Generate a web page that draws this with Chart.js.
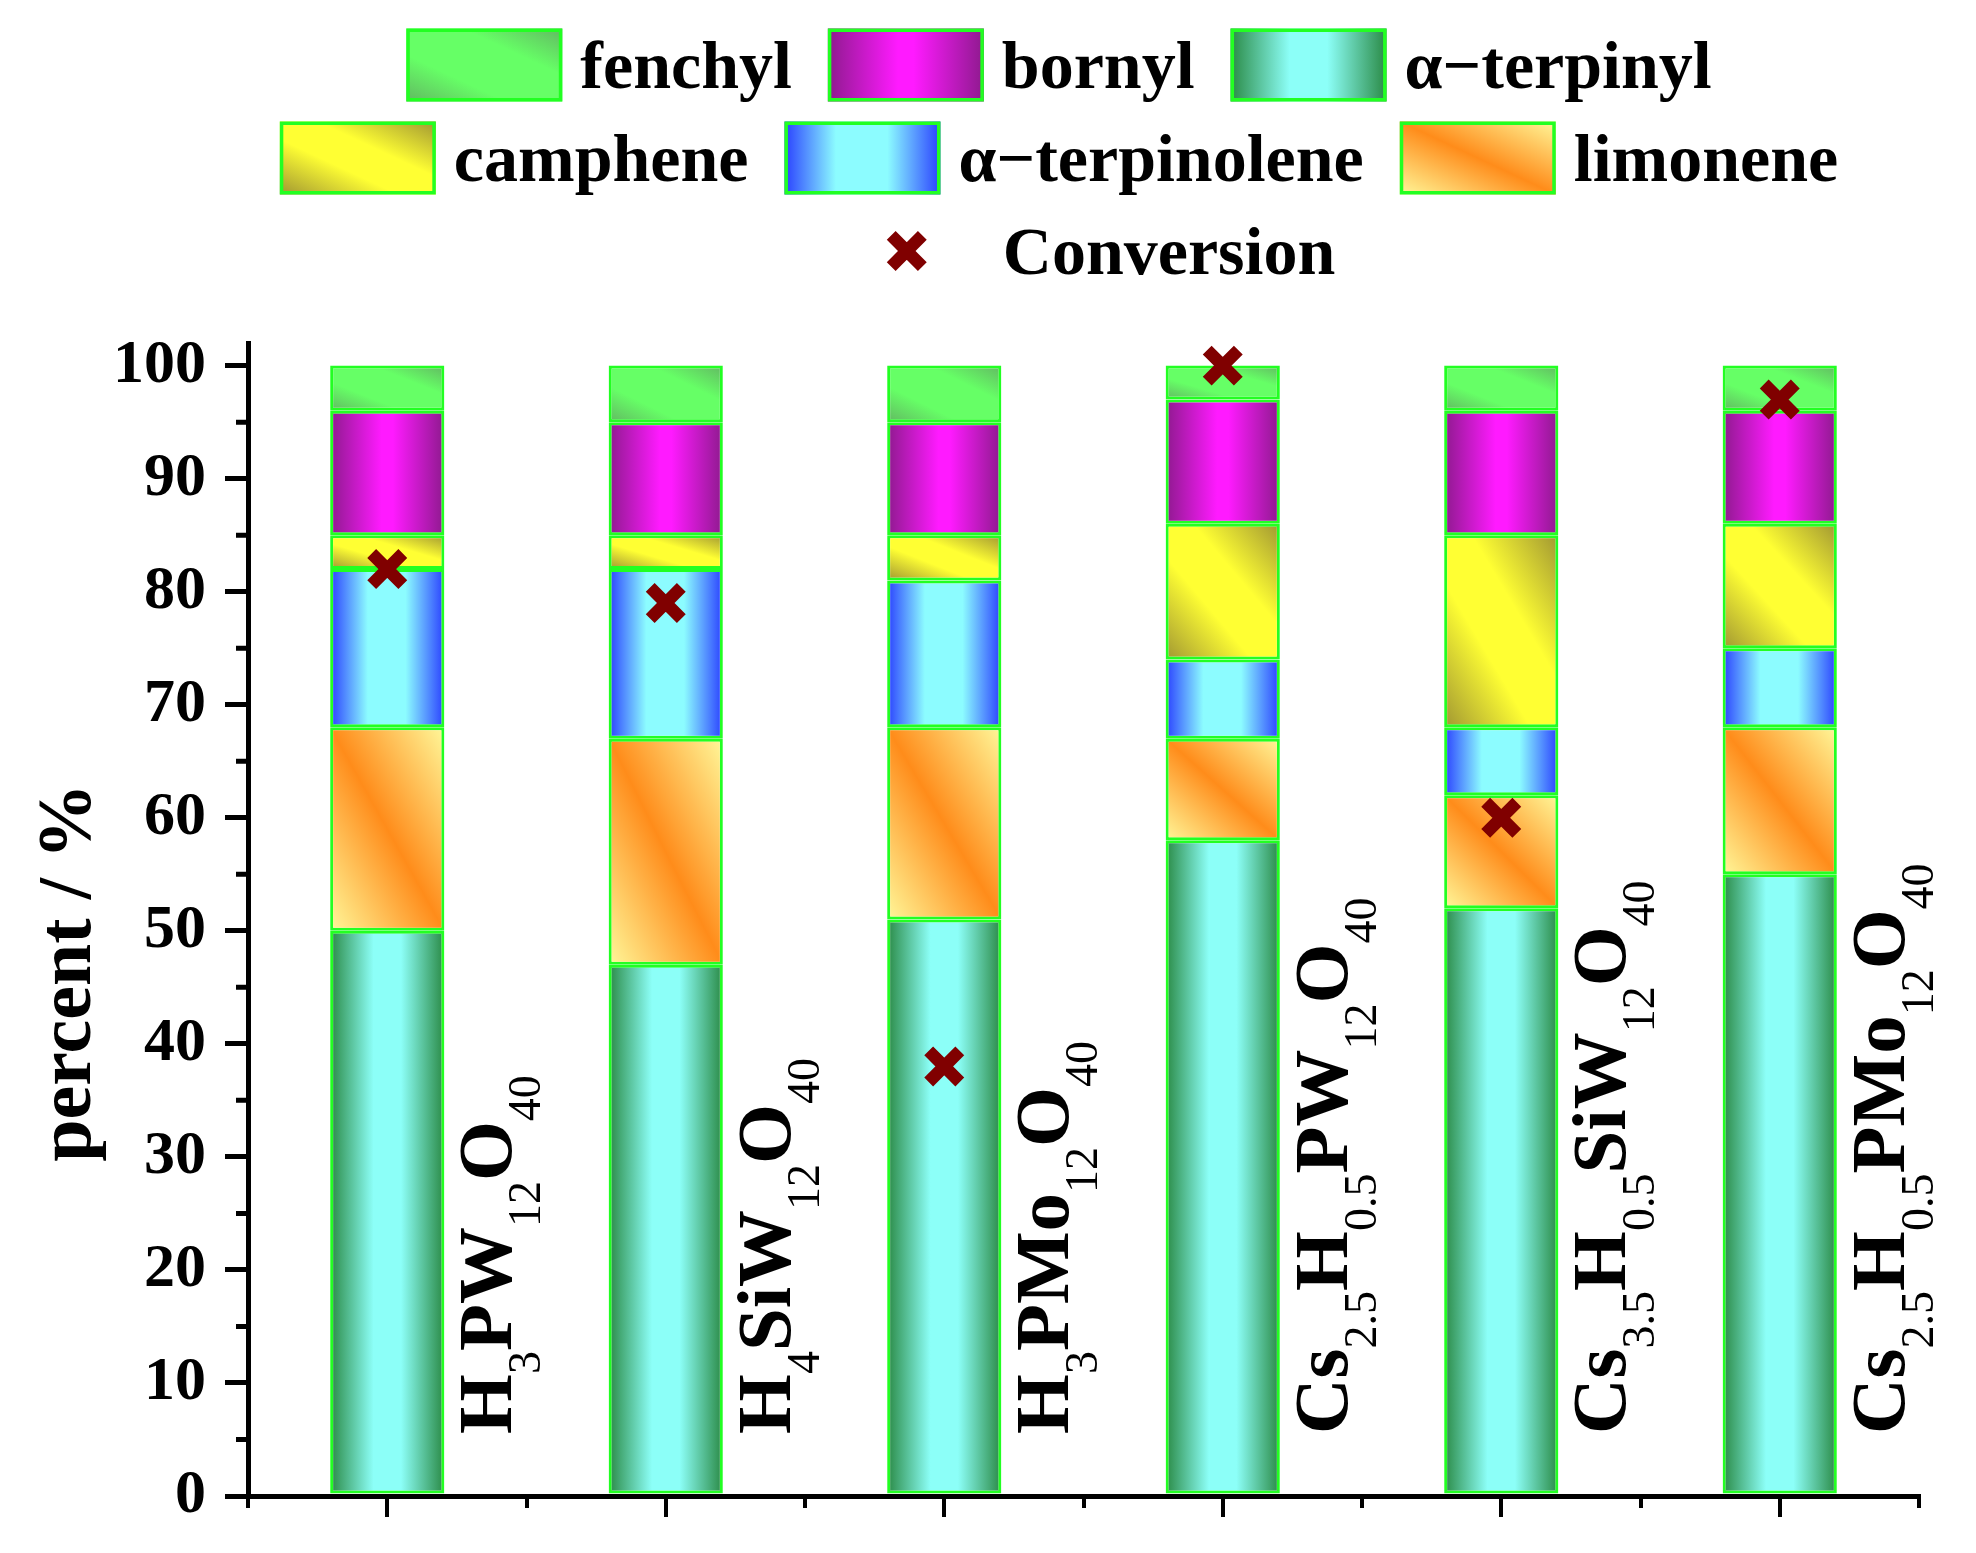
<!DOCTYPE html>
<html>
<head>
<meta charset="utf-8">
<title>percent / %</title>
<script src="https://cdn.jsdelivr.net/npm/chart.js@4.4.1/dist/chart.umd.min.js"></script>
<style>
  html, body { margin: 0; padding: 0; background: #fff; }
  #caixa { width: 1976px; height: 1553px; position: relative; }
</style>
</head>
<body>
<div id="caixa"><canvas id="grafico"></canvas></div>
<script>
// categorias (subscritos marcados com _)
const categories = ['H_3PW_12O_40', 'H_4SiW_12O_40', 'H_3PMo_12O_40',
                    'Cs_2.5H_0.5PW_12O_40', 'Cs_3.5H_0.5SiW_12O_40', 'Cs_2.5H_0.5PMo_12O_40'];

// composição (%) de baixo para cima
const terpinyl    = [50, 47, 51, 58, 52, 55];
const limonene    = [18, 20, 17,  9, 10, 13];
const terpinolene = [14, 15, 13,  7,  6,  7];
const camphene    = [ 3,  3,  4, 12, 17, 11];
const bornyl      = [11, 10, 10, 11, 11, 10];
const fenchyl     = [ 4,  5,  5,  3,  4,  4];

// conversão (%)
const conversion  = [82, 79, 38, 100, 60, 97];

const FONTE = '"Liberation Serif", "Times New Roman", serif';
const VERDE_BORDA = '#22ff22';
const VINHO = '#800000';

// estilos de preenchimento (h = horizontal, d = diagonal)
const estilos = {
  fenchyl:     { tipo: 'd', stops: [[0, '#62b862'], [0.32, '#66ff66'], [0.68, '#66ff66'], [1, '#62b862']] },
  bornyl:      { tipo: 'h', stops: [[0, '#8e1a8e'], [0.45, '#ff1aff'], [0.55, '#ff1aff'], [1, '#8e1a8e']] },
  terpinyl:    { tipo: 'h', stops: [[0, '#2a8a45'], [0.38, '#8cfff8'], [0.62, '#8cfff8'], [1, '#2a8a45']] },
  camphene:    { tipo: 'd', stops: [[0, '#a09632'], [0.38, '#ffff33'], [0.62, '#ffff33'], [1, '#a09632']] },
  terpinolene: { tipo: 'h', stops: [[0, '#2a40ff'], [0.33, '#8cfcff'], [0.66, '#8cfcff'], [1, '#2a40ff']] },
  limonene:    { tipo: 'd', stops: [[0, '#fff89a'], [0.5, '#ff8c1a'], [1, '#fff89a']] }
};

function gradiente(ctx, est, l, t, r, b) {
  let g;
  if (est.tipo === 'h') {
    g = ctx.createLinearGradient(l, 0, r, 0);
  } else {
    // faixa central ao longo da diagonal sup.esq -> inf.dir
    const w = r - l, h = b - t, d = Math.hypot(w, h) || 1;
    const cx = (l + r) / 2, cy = (t + b) / 2, e = w * h / d;
    const nx = h / d, ny = -w / d;
    g = ctx.createLinearGradient(cx - nx * e, cy - ny * e, cx + nx * e, cy + ny * e);
  }
  est.stops.forEach(s => g.addColorStop(s[0], s[1]));
  return g;
}

function serieBarra(label, dados, estilo) {
  return {
    type: 'bar',
    label: label,
    data: dados,
    estilo: estilo,
    yAxisID: 'y',
    backgroundColor: () => estilos[estilo].stops[1][1],
    borderColor: VERDE_BORDA,
    borderWidth: 3,
    borderSkipped: false,
    categoryPercentage: 1,
    barPercentage: 0.41
  };
}

// gradiente por segmento de barra
const pintarBarras = {
  id: 'pintarBarras',
  beforeDatasetsDraw(chart) {
    const ctx = chart.ctx;
    chart.data.datasets.forEach((ds, i) => {
      if (!ds.estilo) return;
      chart.getDatasetMeta(i).data.forEach(bar => {
        const p = bar.getProps(['x', 'y', 'base', 'width'], true);
        bar.options.backgroundColor = gradiente(ctx, estilos[ds.estilo],
          p.x - p.width / 2, Math.min(p.y, p.base), p.x + p.width / 2, Math.max(p.y, p.base));
      });
    });
  }
};

// fórmula com subscritos (subscritos sem negrito)
function desenharFormula(ctx, texto, tamanho, tamanhoSub, desloc) {
  const partes = texto.split(/_([\d.]+)/);
  let u = 0;
  ctx.textAlign = 'left';
  ctx.textBaseline = 'alphabetic';
  partes.forEach((parte, k) => {
    if (!parte) return;
    if (k % 2 === 0) {
      ctx.font = `bold ${tamanho}px ${FONTE}`;
      ctx.fillText(parte, u, 0);
    } else {
      ctx.font = `${tamanhoSub}px ${FONTE}`;
      ctx.fillText(parte, u, desloc);
    }
    u += ctx.measureText(parte).width;
  });
}

// rótulos verticais, título do eixo y e marcas menores
const extras = {
  id: 'extras',
  afterDatasetsDraw(chart) {
    const ctx = chart.ctx, area = chart.chartArea, xs = chart.scales.x;
    ctx.save();
    ctx.fillStyle = '#000';
    categories.forEach((rotulo, i) => {
      const cx = xs.getPixelForValue(i);
      ctx.save();
      ctx.translate(cx + 124, area.bottom - 62);
      ctx.rotate(-Math.PI / 2);
      desenharFormula(ctx, rotulo, 77, 46, 29);
      ctx.restore();
    });
    ctx.restore();
  },
  afterDraw(chart) {
    const ctx = chart.ctx, area = chart.chartArea;
    const xs = chart.scales.x, ys = chart.scales.y;
    ctx.save();
    ctx.strokeStyle = '#000';
    ctx.lineWidth = 4;
    ctx.beginPath();
    for (let i = 0; i <= categories.length; i++) {
      const px = Math.round(xs.getPixelForValue(i - 0.5));
      ctx.moveTo(px, area.bottom);
      ctx.lineTo(px, area.bottom + 12);
    }
    ctx.stroke();
    ctx.lineWidth = 5;
    ctx.beginPath();
    for (let v = 5; v < 100; v += 10) {
      const py = ys.getPixelForValue(v);
      ctx.moveTo(area.left - 12, py);
      ctx.lineTo(area.left, py);
    }
    ctx.stroke();

    // título do eixo y
    ctx.fillStyle = '#000';
    ctx.font = `bold 76px ${FONTE}`;
    ctx.textAlign = 'center';
    ctx.textBaseline = 'alphabetic';
    ctx.translate(90, (area.top + area.bottom) / 2 + 53);
    ctx.rotate(-Math.PI / 2);
    ctx.fillText('percent / %', 0, 0);
    ctx.restore();
  }
};

// legenda em três linhas
const linhasLegenda = [['fenchyl', 'bornyl', 'terpinyl'], ['camphene', 'terpinolene', 'limonene'], ['conversion']];

function desenharX(ctx, x, y, r, larg, cor) {
  const o = Math.cos(Math.PI / 4) * r;
  ctx.save();
  ctx.strokeStyle = cor;
  ctx.lineWidth = larg;
  ctx.lineCap = 'butt';
  ctx.beginPath();
  ctx.moveTo(x - o, y - o); ctx.lineTo(x + o, y + o);
  ctx.moveTo(x + o, y - o); ctx.lineTo(x - o, y + o);
  ctx.stroke();
  ctx.restore();
}

const legenda = {
  id: 'legenda',
  afterDraw(chart) {
    const ctx = chart.ctx, area = chart.chartArea;
    const centro = area.left + 811;
    const caixaL = 156, caixaA = 73, espaco = 18, entre = 36;
    ctx.save();
    ctx.font = `bold 68px ${FONTE}`;
    ctx.textAlign = 'left';
    ctx.textBaseline = 'alphabetic';
    linhasLegenda.forEach((linha, r) => {
      const cy = 65 + r * 93;
      const itens = linha.map(chave => {
        const ds = chart.data.datasets.find(d => (d.estilo || 'conversion') === chave);
        return { chave: chave, texto: ds.label, largura: caixaL + espaco + ctx.measureText(ds.label).width };
      });
      const total = itens.reduce((a, it) => a + it.largura, 0) + entre * (itens.length - 1);
      let x0 = centro - total / 2 + (r === 2 ? 23 : 0);
      itens.forEach(it => {
        if (it.chave === 'conversion') {
          desenharX(ctx, x0 + caixaL / 2, cy, 22, 12.5, VINHO);
        } else {
          const l = x0, t = cy - caixaA / 2;
          ctx.fillStyle = gradiente(ctx, estilos[it.chave], l, t, l + caixaL, t + caixaA);
          ctx.fillRect(l, t, caixaL, caixaA);
          ctx.strokeStyle = VERDE_BORDA;
          ctx.lineWidth = 3.5;
          ctx.strokeRect(l + 1.75, t + 1.75, caixaL - 3.5, caixaA - 3.5);
        }
        ctx.fillStyle = '#000';
        ctx.fillText(it.texto, x0 + caixaL + espaco, cy + 23);
        x0 += it.largura + entre;
      });
    });
    ctx.restore();
  }
};

function criarGrafico() {
  new Chart(document.getElementById('grafico'), {
    type: 'bar',
    data: {
      labels: categories,
      datasets: [
        {
          type: 'line',
          label: 'Conversion',
          data: conversion,
          yAxisID: 'yc',
          order: -1,
          showLine: false,
          clip: false,
          pointStyle: 'crossRot',
          pointRadius: 22,
          pointBorderWidth: 12.5,
          pointBorderColor: VINHO,
          pointBackgroundColor: VINHO
        },
        serieBarra('α−terpinyl', terpinyl, 'terpinyl'),
        serieBarra('limonene', limonene, 'limonene'),
        serieBarra('α−terpinolene', terpinolene, 'terpinolene'),
        serieBarra('camphene', camphene, 'camphene'),
        serieBarra('bornyl', bornyl, 'bornyl'),
        serieBarra('fenchyl', fenchyl, 'fenchyl')
      ]
    },
    options: {
      responsive: true,
      maintainAspectRatio: false,
      animation: false,
      devicePixelRatio: 1,
      events: [],
      layout: { padding: { top: 343, right: 57, left: 0, bottom: 0 } },
      plugins: { legend: { display: false }, tooltip: { enabled: false } },
      scales: {
        x: {
          stacked: true,
          offset: true,
          ticks: { display: false },
          grid: { offset: false, drawOnChartArea: false, drawTicks: true, tickLength: 21,
                  tickWidth: 4, tickColor: '#000', color: '#000', lineWidth: 4 },
          border: { display: true, color: '#000', width: 5 },
          afterFit: s => { s.height = 57; }
        },
        y: {
          stacked: true,
          min: 0,
          max: 102,
          ticks: { stepSize: 10, includeBounds: false, color: '#000', padding: 19,
                   font: { family: FONTE, weight: 'bold', size: 62 } },
          grid: { drawOnChartArea: false, drawTicks: true, tickLength: 23,
                  tickWidth: 5, tickColor: '#000', color: '#000', lineWidth: 5 },
          border: { display: true, color: '#000', width: 5 },
          afterFit: s => { s.width = 248; }
        },
        yc: { display: false, min: 0, max: 102 }
      }
    },
    plugins: [pintarBarras, extras, legenda]
  });
}

document.fonts.load(`bold 68px ${FONTE}`).then(criarGrafico, criarGrafico);
</script>
</body>
</html>
